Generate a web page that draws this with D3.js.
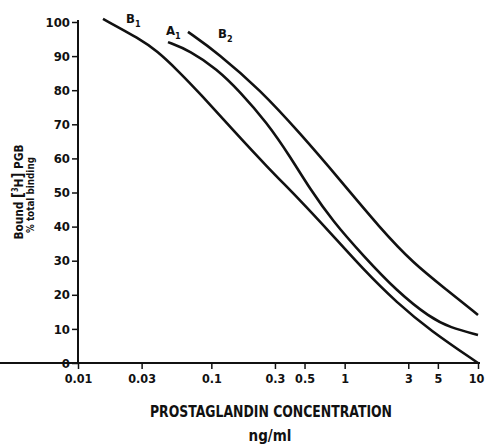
<!DOCTYPE html>
<html>
<head>
<meta charset="utf-8">
<script src="https://cdn.jsdelivr.net/npm/d3@7"></script>
<style>
  body { margin: 0; background: #fff; }
  text { font-family: "DejaVu Sans Condensed", "Liberation Sans Narrow", "Arial Narrow", sans-serif; font-stretch: condensed; font-weight: bold; fill: #111; }
</style>
</head>
<body>
<svg id="chart" width="485" height="445"></svg>
<script>
// values (concentration ng/ml, % bound)
var curveB1 = [[0.0154,100.9],[0.0292,95.0],[0.0391,91.5],[0.0553,86.0],[0.0823,79.0],[0.1455,68.3],[0.262,57.5],[0.462,47.8],[0.776,38.3],[1.374,27.5],[2.47,17.6],[4.37,9.6],[10,0]]
var curveA1 = [[0.0473,94.1],[0.0692,91.6],[0.110,86.2],[0.164,79.6],[0.262,70.4],[0.389,60.6],[0.550,51.0],[0.818,41.5],[1.374,31.5],[2.47,21.0],[4.37,13.3],[6.18,10.4],[10,8.2]]
var curveB2 = [[0.0668,97.1],[0.112,90.9],[0.232,80.1],[0.462,67.4],[0.923,53.7],[1.84,39.6],[3.26,29.3],[5.86,21.4],[10,14.1]]
var xTicks = [0.01, 0.03, 0.1, 0.3, 0.5, 1, 3, 5, 10]
var xTickLabels = ['0.01', '0.03', '0.1', '0.3', '0.5', '1', '3', '5', '10']
var yTicks = [0, 10, 20, 30, 40, 50, 60, 70, 80, 90, 100]

var svg = d3.select('#chart')
var x = d3.scaleLog().domain([0.01, 10]).range([78, 478])
var y = d3.scaleLinear().domain([0, 100]).range([363, 22])

// axes
var xAxis = svg.append('g').attr('transform', 'translate(0,363)')
  .call(d3.axisBottom(x).tickValues(xTicks).tickSize(6).tickPadding(5)
    .tickFormat(function (d, i) { return xTickLabels[i] }))
var yAxis = svg.append('g').attr('transform', 'translate(78,0)')
  .call(d3.axisLeft(y).tickValues(yTicks).tickSize(6).tickPadding(2))
svg.selectAll('.domain').attr('stroke', '#111').attr('stroke-width', 2)
svg.selectAll('.tick line').attr('stroke', '#111').attr('stroke-width', 1.5)
svg.selectAll('.tick text').style('font-size', '13px').attr('fill', '#111')
xAxis.selectAll('.tick text').style('font-size', '12.5px')
xAxis.selectAll('.tick').filter(function (d) { return d === 10 }).select('text').attr('dx', -2)
yAxis.select('.domain').attr('d', 'M0,20V363')
xAxis.select('.domain').attr('d', 'M0,0H480')

// curves
var line = d3.line()
  .x(function (d) { return x(d[0]) })
  .y(function (d) { return y(d[1]) })
  .curve(d3.curveBasis)
;[curveB1, curveA1, curveB2].forEach(function (c) {
  svg.append('path').datum(c)
    .attr('d', line)
    .attr('fill', 'none')
    .attr('stroke', '#111')
    .attr('stroke-width', 2.6)
})

// curve labels
function sublabel (px, py, main, sub) {
  var t = svg.append('text').attr('x', px).attr('y', py).style('font-size', '13px')
  t.append('tspan').text(main)
  t.append('tspan').attr('dy', 4).style('font-size', '9px').text(sub)
}
sublabel(126, 23, 'B', '1')
sublabel(166, 35, 'A', '1')
sublabel(218, 38, 'B', '2')

// axis titles
svg.append('text').attr('x', 271).attr('y', 417).attr('text-anchor', 'middle')
  .attr('textLength', 242).attr('lengthAdjust', 'spacingAndGlyphs')
  .style('font-size', '15px').text('PROSTAGLANDIN CONCENTRATION')
svg.append('text').attr('x', 270).attr('y', 441).attr('text-anchor', 'middle')
  .style('font-size', '15px').text('ng/ml')

var yt = svg.append('text').attr('transform', 'translate(23,192) rotate(-90)')
  .attr('text-anchor', 'middle').style('font-size', '13px')
  .attr('textLength', 95).attr('lengthAdjust', 'spacingAndGlyphs')
yt.append('tspan').text('Bound ')
yt.append('tspan').style('font-size', '16px').text('[')
yt.append('tspan').attr('dy', -5).style('font-size', '8px').text('3')
yt.append('tspan').attr('dy', 5).text('H')
yt.append('tspan').style('font-size', '16px').text(']')
yt.append('tspan').text(' PGB')
svg.append('text').attr('transform', 'translate(34,195) rotate(-90)')
  .attr('text-anchor', 'middle').style('font-size', '10.5px')
  .attr('textLength', 76).attr('lengthAdjust', 'spacingAndGlyphs').text('% total binding')
</script>
</body>
</html>
